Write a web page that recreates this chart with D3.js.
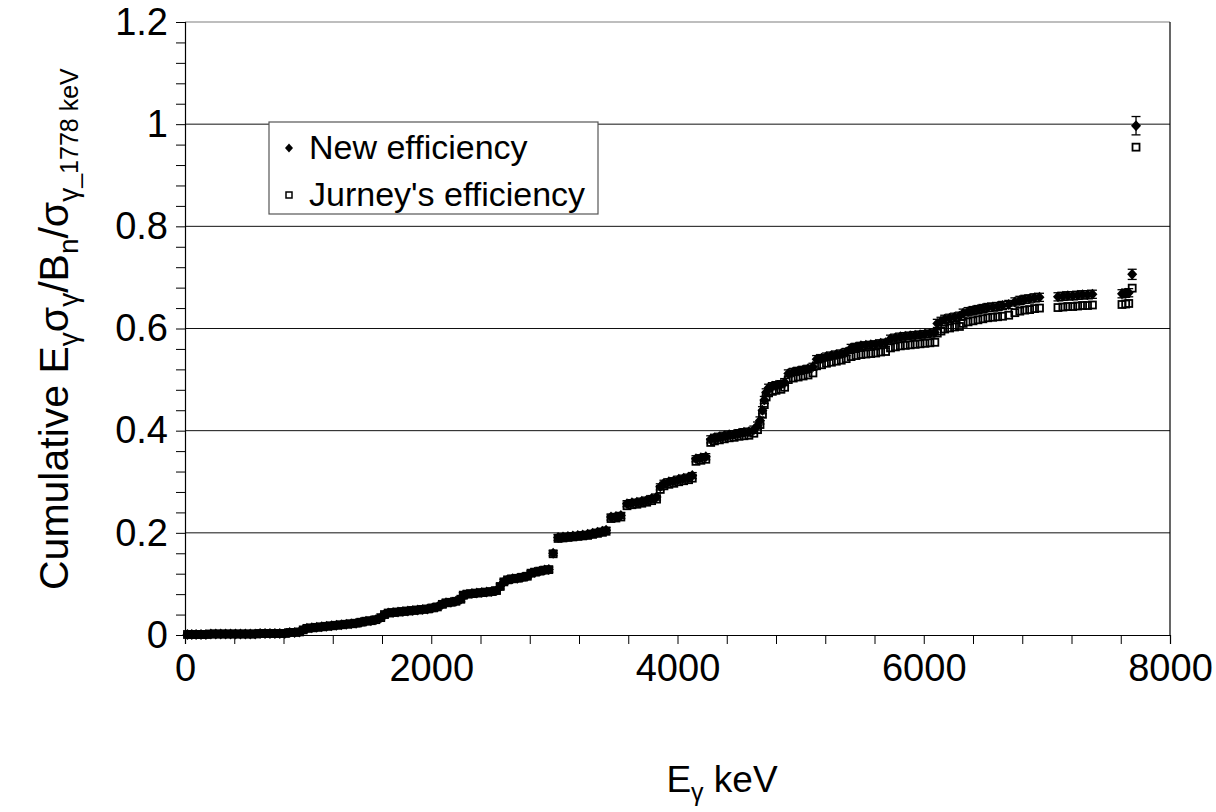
<!DOCTYPE html>
<html><head><meta charset="utf-8">
<script src="https://cdn.jsdelivr.net/npm/d3@7"></script>
<style>body{margin:0;background:#fff} svg{display:block} text{font-family:"Liberation Sans",Arial,sans-serif;fill:#000}</style>
</head><body><svg id="c" width="1216" height="812"></svg>
<script>
const energies = [
 20,55,90,130,170,210,250,290,330,370,410,450,490,530,570,610,650,690,730,770,810,850,890,930,
 960,990,1030,1070,1110,1150,1190,1230,1270,1310,1350,1390,1430,1470,1510,1550,1590,1620,1650,1690,1730,1770,1810,1850,1890,1930,1970,2010,2050,
 2090,2120,2160,2200,2240,2260,2290,2330,2370,2410,2450,2490,2530,2560,2590,2620,2660,2700,2740,2780,2810,2840,2880,2920,2955,
 2990,
 3030,3070,3110,3150,3190,3230,3270,3310,3350,3390,3420,
 3460,3500,3540,
 3590,3630,3670,3710,3750,3790,3830,
 3860,3890,3930,3970,4010,4050,4090,4120,
 4150,4190,4230,
 4270,4300,4340,4380,4420,4460,4500,4540,4580,4620,4650,4670,4690,4705,4720,
 4740,4770,4800,4840,4870,
 4900,4940,4980,5020,5060,5100,
 5130,5170,5210,5250,5290,5330,5370,
 5410,5450,5490,5530,5570,5610,5650,5690,
 5730,5770,5810,5850,5890,5930,5970,6010,6050,6090,
 6110,6140,
 6170,6210,6250,6290,
 6320,6360,6400,6440,6480,6520,6560,6600,6640,6690,
 6740,6780,6820,6860,6900,6940,
 7090,7130,7170,7210,7250,7290,7330,7370,
 7610,7640,7665,7693,7724];
const newEff = [
 0.001,0.001,0.001,0.001,0.001,0.002,0.002,0.002,0.002,0.002,0.002,0.002,0.002,0.002,0.002,0.003,0.003,0.003,0.003,0.003,0.003,0.005,0.005,0.006,
 0.010,0.013,0.014,0.015,0.016,0.017,0.018,0.019,0.020,0.021,0.022,0.023,0.025,0.027,0.028,0.030,0.034,0.040,0.043,0.044,0.045,0.046,0.047,0.048,0.049,0.050,0.051,0.053,0.055,
 0.060,0.063,0.064,0.066,0.070,0.078,0.080,0.081,0.082,0.083,0.084,0.085,0.087,0.095,0.104,0.108,0.110,0.111,0.113,0.115,0.121,0.123,0.125,0.127,0.128,
 0.160,
 0.191,0.192,0.193,0.194,0.195,0.196,0.197,0.199,0.201,0.203,0.205,
 0.231,0.232,0.234,
 0.257,0.259,0.260,0.262,0.264,0.267,0.270,
 0.290,0.297,0.300,0.302,0.305,0.307,0.309,0.312,
 0.345,0.347,0.349,
 0.383,0.386,0.388,0.390,0.392,0.393,0.395,0.397,0.398,0.402,0.410,0.420,0.440,0.460,0.475,
 0.484,0.487,0.489,0.491,0.495,
 0.512,0.515,0.517,0.519,0.521,0.525,
 0.540,0.542,0.545,0.547,0.549,0.551,0.554,
 0.562,0.564,0.566,0.567,0.568,0.569,0.571,0.572,
 0.580,0.582,0.584,0.585,0.586,0.587,0.588,0.589,0.590,0.592,
 0.610,0.614,
 0.618,0.620,0.622,0.624,
 0.630,0.633,0.635,0.637,0.639,0.641,0.642,0.643,0.645,0.647,
 0.652,0.655,0.657,0.658,0.660,0.661,
 0.662,0.663,0.664,0.664,0.665,0.666,0.666,0.667,
 0.668,0.669,0.670,0.706,0.997];
const jurneyEff = [
 0.001,0.001,0.001,0.001,0.001,0.002,0.002,0.002,0.002,0.002,0.002,0.002,0.002,0.002,0.002,0.003,0.003,0.003,0.003,0.003,0.003,0.005,0.005,0.006,
 0.010,0.013,0.014,0.015,0.016,0.017,0.018,0.019,0.020,0.021,0.022,0.023,0.025,0.027,0.028,0.030,0.034,0.040,0.043,0.044,0.045,0.046,0.047,0.048,0.049,0.050,0.051,0.053,0.055,
 0.060,0.063,0.064,0.066,0.070,0.078,0.080,0.081,0.082,0.083,0.084,0.085,0.087,0.095,0.104,0.108,0.110,0.111,0.113,0.115,0.121,0.123,0.125,0.127,0.128,
 0.159,
 0.189,0.190,0.191,0.192,0.193,0.194,0.195,0.197,0.199,0.201,0.203,
 0.228,0.229,0.231,
 0.253,0.255,0.256,0.258,0.260,0.263,0.266,
 0.285,0.292,0.295,0.297,0.300,0.302,0.304,0.307,
 0.340,0.342,0.344,
 0.377,0.380,0.382,0.384,0.386,0.387,0.389,0.390,0.391,0.395,0.402,0.412,0.432,0.451,0.466,
 0.474,0.477,0.479,0.481,0.485,
 0.500,0.503,0.505,0.507,0.509,0.513,
 0.527,0.529,0.532,0.534,0.536,0.538,0.541,
 0.545,0.547,0.549,0.550,0.551,0.552,0.554,0.555,
 0.562,0.564,0.566,0.567,0.568,0.569,0.570,0.571,0.572,0.573,
 0.591,0.595,
 0.599,0.601,0.603,0.604,
 0.610,0.613,0.615,0.617,0.619,0.621,0.622,0.623,0.624,0.626,
 0.631,0.634,0.636,0.637,0.639,0.640,
 0.641,0.642,0.643,0.643,0.644,0.645,0.645,0.646,
 0.647,0.648,0.649,0.679,0.955];
const errors = [
 0.001,0.001,0.001,0.001,0.001,0.001,0.001,0.001,0.001,0.001,0.001,0.001,0.001,0.001,0.001,0.001,0.001,0.001,0.001,0.001,0.001,0.001,0.001,0.001,
 0.002,0.002,0.002,0.002,0.002,0.002,0.002,0.002,0.002,0.002,0.002,0.002,0.002,0.002,0.002,0.002,0.002,0.002,0.002,0.002,0.002,0.002,0.002,0.002,0.002,0.002,0.002,0.002,0.002,
 0.003,0.003,0.003,0.003,0.003,0.003,0.003,0.003,0.003,0.003,0.003,0.003,0.003,0.003,0.003,0.003,0.003,0.003,0.003,0.003,0.003,0.003,0.003,0.003,0.003,
 0.003,
 0.004,0.004,0.004,0.004,0.004,0.004,0.004,0.004,0.004,0.004,0.004,
 0.004,0.004,0.004,
 0.004,0.004,0.004,0.004,0.004,0.004,0.004,
 0.004,0.004,0.004,0.004,0.004,0.004,0.004,0.004,
 0.004,0.004,0.004,
 0.005,0.005,0.005,0.005,0.005,0.005,0.005,0.005,0.005,0.005,0.005,0.005,0.005,0.005,0.005,
 0.005,0.005,0.005,0.005,0.005,
 0.005,0.005,0.005,0.005,0.005,0.005,
 0.005,0.005,0.005,0.005,0.005,0.005,0.005,
 0.005,0.005,0.005,0.005,0.005,0.005,0.005,0.005,
 0.005,0.005,0.005,0.005,0.005,0.005,0.005,0.005,0.005,0.005,
 0.006,0.006,
 0.006,0.006,0.006,0.006,
 0.006,0.006,0.006,0.006,0.006,0.006,0.006,0.006,0.006,0.006,
 0.006,0.006,0.006,0.006,0.006,0.006,
 0.006,0.006,0.006,0.006,0.006,0.006,0.006,0.006,
 0.006,0.006,0.006,0.008,0.016];
const xTickValues = [0,2000,4000,6000,8000];
const xTickLabels = ["0","2000","4000","6000","8000"];
const yTickValues = [0,0.2,0.4,0.6,0.8,1.0,1.2];
const yTickLabels = ["0","0.2","0.4","0.6","0.8","1","1.2"];
const legendLabels = ["New efficiency","Jurney's efficiency"];

const svg = d3.select("#c");
const L = 185, R = 1170, T = 22, B = 635;
const x = d3.scaleLinear().domain([0, 8000]).range([L, R]);
const y = d3.scaleLinear().domain([0, 1.2]).range([B, T]);

// gridlines
svg.append("g").selectAll("line").data(yTickValues.filter(v => v > 0 && v < 1.2)).join("line")
  .attr("x1", L).attr("x2", R).attr("y1", d => y(d)).attr("y2", d => y(d))
  .attr("stroke", "#111").attr("stroke-width", 1);
// frame top + right
svg.append("line").attr("x1", L).attr("x2", R).attr("y1", y(1.2)).attr("y2", y(1.2)).attr("stroke", "#7f7f7f").attr("stroke-width", 1.2);
svg.append("line").attr("x1", R).attr("x2", R).attr("y1", y(1.2)).attr("y2", B).attr("stroke", "#000").attr("stroke-width", 1.2);

// axes
const xAxis = d3.axisBottom(x).tickValues(d3.range(0, 8001, 400)).tickSize(9).tickPadding(10)
  .tickFormat(d => { const i = xTickValues.indexOf(d); return i >= 0 ? xTickLabels[i] : ""; });
const gx = svg.append("g").attr("transform", `translate(0,${B})`).call(xAxis);
gx.select(".domain").attr("stroke", "#000").attr("stroke-width", 1.2);
gx.selectAll(".tick line").attr("stroke", "#000");
gx.selectAll("text").attr("font-size", 38).attr("font-family", "Liberation Sans, Arial, sans-serif").attr("fill", "#000");

const yMinor = d3.range(0, 31).map(i => i * 0.04);
const yAxis = d3.axisLeft(y).tickValues(yMinor).tickSize(9).tickPadding(8)
  .tickFormat(d => { const i = yTickValues.findIndex(v => Math.abs(v - d) < 1e-6); return i >= 0 ? yTickLabels[i] : ""; });
const gy = svg.append("g").attr("transform", `translate(${L},0)`).call(yAxis);
gy.select(".domain").attr("stroke", "#000").attr("stroke-width", 1.2);
gy.selectAll(".tick line").attr("stroke", "#000");
gy.selectAll("text").attr("font-size", 38).attr("font-family", "Liberation Sans, Arial, sans-serif").attr("fill", "#000");

// data
const pts = energies.map((e, i) => ({e, n: newEff[i], j: jurneyEff[i], err: errors[i]}));
const diamond = "M0,-5.5L5,0L0,5.5L-5,0Z";
const eb = svg.append("g").attr("stroke", "#000").attr("stroke-width", 1.3);
pts.forEach(p => {
  const cx = x(p.e), y1 = y(p.n + p.err) - 1, y2 = y(p.n - p.err) + 1;
  eb.append("line").attr("x1", cx).attr("x2", cx).attr("y1", y1).attr("y2", y2);
  eb.append("line").attr("x1", cx - 4.5).attr("x2", cx + 4.5).attr("y1", y1).attr("y2", y1);
  eb.append("line").attr("x1", cx - 4.5).attr("x2", cx + 4.5).attr("y1", y2).attr("y2", y2);
});
svg.append("g").selectAll("path").data(pts).join("path")
  .attr("d", diamond).attr("transform", d => `translate(${x(d.e)},${y(d.n)})`).attr("fill", "#000");
svg.append("g").selectAll("rect").data(pts).join("rect")
  .attr("x", d => x(d.e) - 3.5).attr("y", d => y(d.j) - 3.5).attr("width", 7).attr("height", 7)
  .attr("fill", "none").attr("stroke", "#000").attr("stroke-width", 1.8);

// legend
const lg = svg.append("g");
lg.append("rect").attr("x", 269).attr("y", 122).attr("width", 329).attr("height", 92)
  .attr("fill", "#fff").attr("stroke", "#555").attr("stroke-width", 1.2);
lg.append("path").attr("d", "M0,-4.5L4,0L0,4.5L-4,0Z").attr("transform", "translate(289,148)").attr("fill", "#000");
lg.append("rect").attr("x", 286).attr("y", 192).attr("width", 6).attr("height", 6).attr("fill", "none").attr("stroke", "#000").attr("stroke-width", 1.5);
lg.append("text").attr("x", 309).attr("y", 159).attr("font-size", 34).text(legendLabels[0]);
lg.append("text").attr("x", 309).attr("y", 206).attr("font-size", 34).text(legendLabels[1]);

// axis titles
const xt = svg.append("text").attr("x", 722).attr("y", 792).attr("text-anchor", "middle").attr("font-size", 37);
xt.append("tspan").text("E");
xt.append("tspan").attr("font-size", 25).attr("dy", 9).text("γ");
xt.append("tspan").attr("dy", -9).text(" keV");

const yt = svg.append("text").attr("transform", "translate(68,590) rotate(-90)").attr("text-anchor", "start").attr("font-size", 41);
yt.append("tspan").text("Cumulative E");
yt.append("tspan").attr("font-size", 28).attr("dy", 10).text("γ");
yt.append("tspan").attr("dy", -10).text("σ");
yt.append("tspan").attr("font-size", 28).attr("dy", 10).text("γ");
yt.append("tspan").attr("dy", -10).text("/B");
yt.append("tspan").attr("font-size", 28).attr("dy", 10).text("n");
yt.append("tspan").attr("dy", -10).text("/σ");
yt.append("tspan").attr("font-size", 28).attr("dy", 10).text("γ");
yt.append("tspan").attr("font-size", 25).text("_1778 keV");
</script></body></html>
